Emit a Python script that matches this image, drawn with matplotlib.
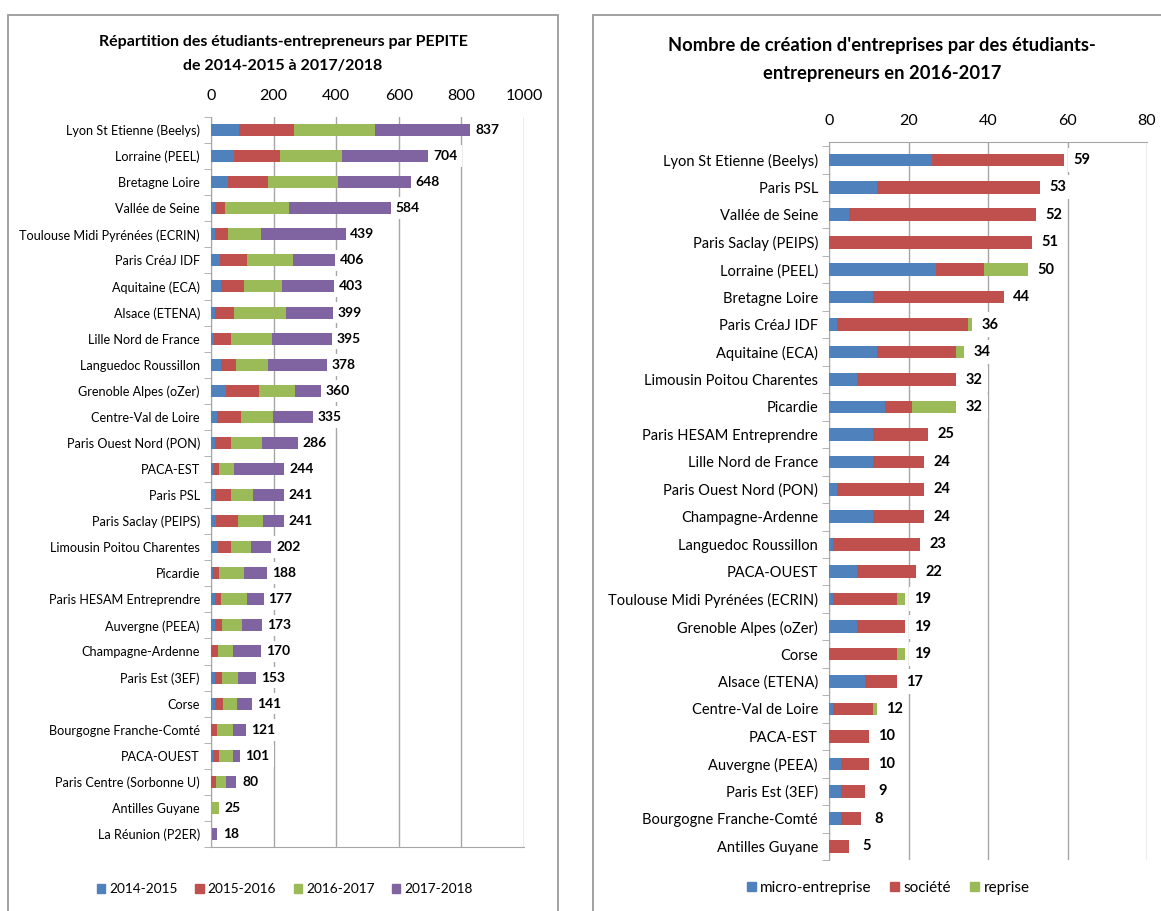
import numpy as np
import matplotlib.pyplot as plt
from matplotlib.patches import Rectangle, Patch

plt.rcParams['font.family'] = ['Lato', 'DejaVu Sans']

# panneau de gauche : etudiants-entrepreneurs par PEPITE
cats_g = ["Lyon St Etienne (Beelys)", "Lorraine (PEEL)", "Bretagne Loire", "Vallée de Seine",
          "Toulouse Midi Pyrénées (ECRIN)", "Paris CréaJ IDF", "Aquitaine (ECA)", "Alsace (ETENA)",
          "Lille Nord de France", "Languedoc Roussillon", "Grenoble Alpes (oZer)", "Centre-Val de Loire",
          "Paris Ouest Nord (PON)", "PACA-EST", "Paris PSL", "Paris Saclay (PEIPS)",
          "Limousin Poitou Charentes", "Picardie", "Paris HESAM Entreprendre", "Auvergne (PEEA)",
          "Champagne-Ardenne", "Paris Est (3EF)", "Corse", "Bourgogne Franche-Comté", "PACA-OUEST",
          "Paris Centre (Sorbonne U)", "Antilles Guyane", "La Réunion (P2ER)"]
v1415 = [89, 73, 54, 13, 14, 28, 31, 14, 10, 32, 48, 20, 13, 10, 13, 17, 23, 7, 13, 13, 0, 14, 14, 0, 10, 0, 0, 0]
v1516 = [177, 149, 128, 31, 40, 88, 73, 61, 55, 49, 105, 75, 52, 17, 52, 68, 42, 20, 20, 23, 22, 22, 25, 19, 17, 17, 0, 0]
v1617 = [257, 198, 223, 205, 107, 146, 124, 164, 131, 100, 114, 103, 99, 46, 68, 82, 64, 77, 83, 64, 49, 49, 44, 52, 42, 32, 25, 2]
v1718 = [314, 284, 243, 335, 278, 144, 175, 160, 199, 197, 93, 137, 122, 171, 108, 74, 73, 84, 61, 73, 99, 68, 58, 50, 32, 31, 0, 16]
annees = ["2014-2015", "2015-2016", "2016-2017", "2017-2018"]

# panneau de droite : creations d'entreprises 2016-2017
cats_d = ["Lyon St Etienne (Beelys)", "Paris PSL", "Vallée de Seine", "Paris Saclay (PEIPS)",
          "Lorraine (PEEL)", "Bretagne Loire", "Paris CréaJ IDF", "Aquitaine (ECA)",
          "Limousin Poitou Charentes", "Picardie", "Paris HESAM Entreprendre", "Lille Nord de France",
          "Paris Ouest Nord (PON)", "Champagne-Ardenne", "Languedoc Roussillon", "PACA-OUEST",
          "Toulouse Midi Pyrénées (ECRIN)", "Grenoble Alpes (oZer)", "Corse", "Alsace (ETENA)",
          "Centre-Val de Loire", "PACA-EST", "Auvergne (PEEA)", "Paris Est (3EF)",
          "Bourgogne Franche-Comté", "Antilles Guyane"]
micro = [26, 12, 5, 0, 27, 11, 2, 12, 7, 14, 11, 11, 2, 11, 1, 7, 1, 7, 0, 9, 1, 0, 3, 3, 3, 0]
societe = [33, 41, 47, 51, 12, 33, 33, 20, 25, 7, 14, 13, 22, 13, 22, 15, 16, 12, 17, 8, 10, 10, 7, 6, 5, 5]
reprise = [0, 0, 0, 0, 11, 0, 1, 2, 0, 11, 0, 0, 0, 0, 0, 0, 2, 0, 2, 0, 1, 0, 0, 0, 0, 0]
types = ["micro-entreprise", "société", "reprise"]

couleurs = ["#4F81BD", "#C0504D", "#9BBB59", "#8064A2"]
gris = "#a6a6a6"

W, H = 1161, 911
fig = plt.figure(figsize=(W / 100, H / 100), dpi=100)
fig.patch.set_facecolor("white")

def px(x0, y0, x1, y1):
    return [x0 / W, 1 - y1 / H, (x1 - x0) / W, (y1 - y0) / H]

# cadres des deux graphiques
fig.add_artist(Rectangle((8 / W, -0.05), 550 / W, 1 - 15 / H + 0.05, transform=fig.transFigure,
                         fill=False, ec="#9a9a9a", lw=1.3))
fig.add_artist(Rectangle((593 / W, -0.05), 0.5, 1 - 15 / H + 0.05, transform=fig.transFigure,
                         fill=False, ec="#9a9a9a", lw=1.3))


def barres(ax, cats, series, cols, xmax, step, dx, fs_cat, fs_val):
    n = len(cats)
    y = np.arange(n)
    gauche = np.zeros(n)
    for s, c in zip(series, cols):
        ax.barh(y, s, left=gauche, height=0.46, color=c, zorder=3)
        gauche = gauche + np.array(s)
    for yi, tot in zip(y, gauche):
        ax.text(tot + dx, yi, str(int(tot)), ha="center", va="center", fontsize=fs_val,
                fontweight="bold", zorder=4,
                bbox=dict(boxstyle="square,pad=0.35", fc="white", ec="none"))
    ax.set_xlim(0, xmax)
    ax.set_xticks(np.arange(0, xmax + 1, step))
    ax.set_ylim(n - 0.5, -0.5)
    ax.set_yticks(y)
    ax.set_yticklabels(cats, fontsize=fs_cat)
    ax.set_yticks(np.arange(n + 1) - 0.5, minor=True)
    ax.tick_params(axis="y", which="major", length=0, pad=8)
    ax.tick_params(axis="y", which="minor", length=5, color=gris, direction="out")
    ax.tick_params(axis="x", top=True, labeltop=True, bottom=False, labelbottom=False,
                   length=0, pad=10, labelsize=11.5)
    ax.grid(axis="x", color=gris, lw=1, zorder=0)
    for sp in ax.spines.values():
        sp.set_color(gris)


ax1 = fig.add_axes(px(211, 117, 524, 847))
barres(ax1, cats_g, [v1415, v1516, v1617, v1718], couleurs, 1000, 200, 45, 9.1, 10)
ax1.spines["top"].set_visible(False)
ax1.spines["right"].set_visible(False)

ax2 = fig.add_axes(px(829, 142, 1147, 860))
barres(ax2, cats_d, [micro, societe, reprise], couleurs[:3], 80, 20, 4.5, 10.5, 10.5)
ax2.set_ylim(len(cats_d) - 0.5, -0.65)
ax2.spines["bottom"].set_visible(False)
ax2.spines["right"].set_visible(False)

fig.text(283 / W, 1 - 42 / H, "Répartition des étudiants-entrepreneurs par PEPITE",
         ha="center", va="center", fontsize=11.5, fontweight="bold")
fig.text(283 / W, 1 - 66 / H, "de 2014-2015 à 2017/2018",
         ha="center", va="center", fontsize=11.5, fontweight="bold")
fig.text(882 / W, 1 - 45 / H, "Nombre de création d'entreprises par des étudiants-",
         ha="center", va="center", fontsize=13.2, fontweight="bold")
fig.text(882 / W, 1 - 73 / H, "entrepreneurs en 2016-2017",
         ha="center", va="center", fontsize=13.2, fontweight="bold")

h1 = [Patch(color=c) for c in couleurs]
fig.legend(h1, annees, loc="center", bbox_to_anchor=(285 / W, 1 - 889 / H), ncol=4,
           frameon=False, fontsize=9.8, handlelength=0.6, handleheight=0.6,
           handletextpad=0.3, columnspacing=1.3)
h2 = [Patch(color=c) for c in couleurs[:3]]
fig.legend(h2, types, loc="center", bbox_to_anchor=(888 / W, 1 - 888 / H), ncol=3,
           frameon=False, fontsize=11, handlelength=0.6, handleheight=0.6,
           handletextpad=0.3, columnspacing=1.2)

fig.savefig("out.png", dpi=100)
